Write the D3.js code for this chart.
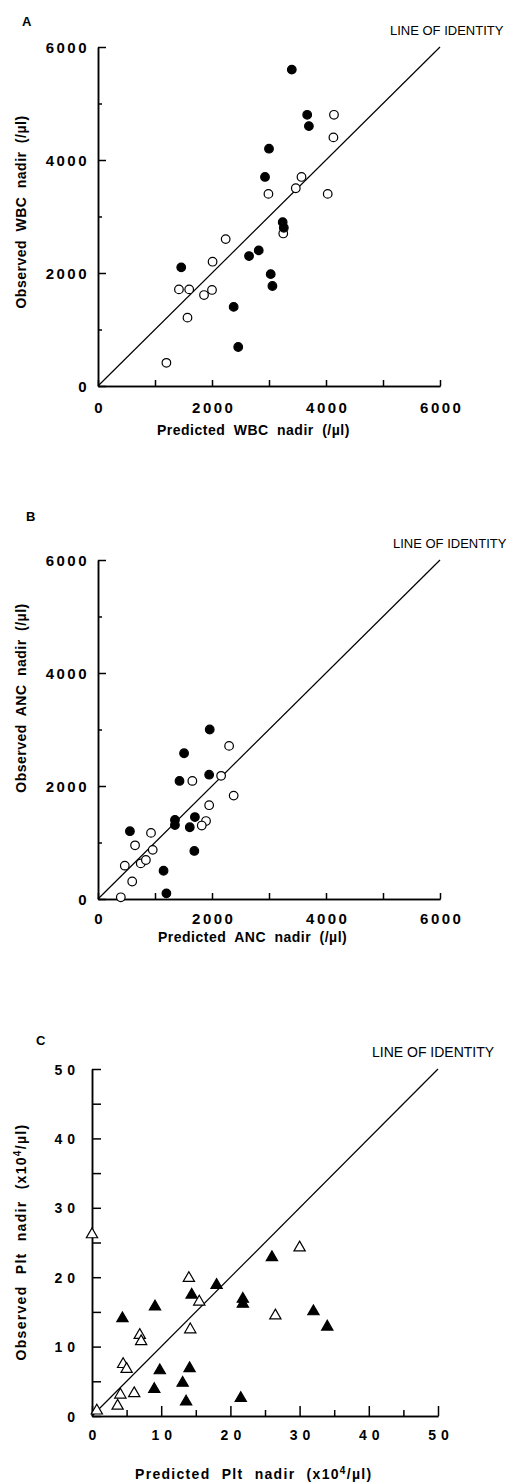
<!DOCTYPE html>
<html>
<head>
<meta charset="utf-8">
<title>Predicted vs observed nadir</title>
<style>
  body { margin: 0; background: #fff; }
  text { font-family: "Liberation Sans", Arial, sans-serif; fill: #000; }
</style>
</head>
<body>
<div id="plot"></div>
<script src="https://cdn.jsdelivr.net/npm/d3@7"></script>
<script>

// panel A : WBC nadir (/µl)  [predicted, observed]
let wbcFilled = [[3400,5600],[3670,4800],[3700,4600],[3000,4200],[2930,3700],[3240,2900],[3260,2800],
                 [2820,2400],[2650,2300],[1460,2100],[3030,1980],[3060,1770],[2380,1400],[2460,690]];
let wbcOpen = [[4140,4800],[4130,4400],[3570,3700],[3470,3500],[2990,3400],[4030,3400],[3250,2700],
               [2240,2600],[2010,2200],[1420,1710],[1600,1710],[2000,1700],[1860,1610],[1570,1210],[1200,410]];

// panel B : ANC nadir (/µl)
let ancFilled = [[1960,3000],[1510,2580],[1950,2200],[1430,2090],[1700,1450],[1350,1400],[1350,1310],
                 [1610,1270],[560,1200],[1690,850],[1150,500],[1200,100]];
let ancOpen = [[2300,2710],[2160,2180],[1655,2090],[2380,1830],[1950,1660],[1895,1380],[1820,1300],
               [930,1170],[650,950],[960,870],[470,590],[750,630],[840,690],[600,310],[400,30]];

// panel C : Plt nadir (x10^4/µl)
let pltFilled = [[26,23],[18,19],[14.4,17.6],[21.8,17],[21.8,16.3],[9.1,15.9],[4.4,14.2],[32,15.2],
                 [34,13],[9.8,6.7],[14.1,7],[13.1,4.9],[9,4],[13.6,2.2],[21.5,2.7]];
let pltOpen = [[0,26.3],[30,24.4],[14,20],[15.5,16.6],[26.5,14.6],[14.2,12.6],[6.9,11.8],[7.1,10.9],
               [4.5,7.6],[5,6.9],[6.1,3.4],[4.1,3.2],[3.7,1.6],[0.7,0.9]];

// ticks
let cellTicks = [0, 2000, 4000, 6000];
let cellMinor = [1000, 3000, 5000];
let pltTicks = [0, 10, 20, 30, 40, 50];
let pltMinor = [5, 15, 25, 35, 45];

let svgWidth = 510;
let svgHeight = 1483;

let svg = d3.select('#plot')
  .append('svg')
    .attr('width', svgWidth)
    .attr('height', svgHeight);

function translate(x, y) {
  return 'translate(' + x + ',' + y + ')';
}

function panel(p) {
  let x = d3.scaleLinear().domain(p.domain).range([p.left, p.right]);
  let y = d3.scaleLinear().domain(p.domain).range([p.bottom, p.top]);
  let g = svg.append('g');
  let fmt = d3.format('d');

  // minor ticks
  g.append('g')
    .attr('transform', translate(p.left, 0))
    .call(d3.axisLeft(y).tickValues(p.minor).tickSize(-p.yMinorLen).tickSizeOuter(0).tickFormat(''));
  g.append('g')
    .attr('transform', translate(0, p.bottom))
    .call(d3.axisBottom(x).tickValues(p.minor).tickSize(-p.xMinorLen).tickSizeOuter(0).tickFormat(''));

  // major ticks with labels
  let ya = g.append('g')
    .attr('transform', translate(p.left, 0))
    .call(d3.axisLeft(y).tickValues(p.ticks).tickSize(-p.yMajorLen).tickSizeOuter(0)
      .tickPadding(p.yPad).tickFormat(fmt));
  let xa = g.append('g')
    .attr('transform', translate(0, p.bottom))
    .call(d3.axisBottom(x).tickValues(p.ticks).tickSize(-p.xMajorLen).tickSizeOuter(0)
      .tickPadding(p.xPad).tickFormat(fmt));

  g.selectAll('.domain, .tick line').attr('stroke', '#000').attr('stroke-width', 1.5);
  g.selectAll('.tick text')
    .style('font-family', '"Liberation Sans", Arial, sans-serif')
    .style('font-weight', 'bold')
    .style('font-size', p.tickFont + 'px')
    .style('letter-spacing', p.tickSpacing + 'px')
    .attr('fill', '#000');
  ya.selectAll('.tick text').attr('dy', '0.36em');
  xa.selectAll('.tick text').attr('dy', '0.71em').attr('dx', p.tickSpacing / 2);

  // line of identity
  g.append('line')
    .attr('x1', x(p.domain[0])).attr('y1', y(p.domain[0]))
    .attr('x2', x(p.domain[1])).attr('y2', y(p.domain[1]))
    .attr('stroke', '#000').attr('stroke-width', 1.2);

  g.append('text')
    .attr('x', p.loiX).attr('y', p.top - 12)
    .style('font-size', p.loiFont + 'px')
    .text('LINE OF IDENTITY');

  // panel letter
  g.append('text')
    .attr('x', p.letterX).attr('y', p.letterY)
    .style('font-size', '13px').style('font-weight', 'bold')
    .text(p.letter);

  // points
  let sym = p.shape === 'circle' ? null : d3.symbol().type(d3.symbolTriangle).size(55);
  [[p.open, '#fff'], [p.filled, '#000']].forEach(function(s) {
    if (sym) {
      g.selectAll(null)
        .data(s[0])
        .enter()
        .append('path')
          .attr('d', sym)
          .attr('transform', d => translate(x(d[0]), y(d[1]) + 1))
          .attr('fill', s[1])
          .attr('stroke', '#000')
          .attr('stroke-width', 1.2);
    } else {
      g.selectAll(null)
        .data(s[0])
        .enter()
        .append('circle')
          .attr('r', 4.3)
          .attr('cx', d => x(d[0]))
          .attr('cy', d => y(d[1]))
          .attr('fill', s[1])
          .attr('stroke', '#000')
          .attr('stroke-width', 1.2);
    }
  });

  // axis titles
  let xt = g.append('text')
    .attr('x', p.xTitleX).attr('y', p.xTitleY);
  let yt = g.append('text')
    .attr('transform', translate(p.yTitleX, p.yTitleY) + ' rotate(-90)')
    .attr('text-anchor', 'middle');
  [[xt, 'Predicted'], [yt, 'Observed']].forEach(function(t) {
    t[0].style('font-size', '14px').style('font-weight', 'bold')
      .style('letter-spacing', p.titleSpacing + 'px').style('word-spacing', p.wordSpacing + 'px');
    t[0].append('tspan').text(t[1] + ' ' + p.name + ' nadir (' + (p.unitPow ? 'x10' : '/\u00b5l)'));
    if (p.unitPow) {
      t[0].append('tspan').attr('baseline-shift', 'super').style('font-size', '10px').text('4');
      t[0].append('tspan').text('/\u00b5l)');
    }
  });
}

panel({
  letter: 'A', letterX: 22, letterY: 26, name: 'WBC',
  domain: [0, 6000], ticks: cellTicks, minor: cellMinor,
  left: 98, right: 440, top: 47, bottom: 386,
  yMajorLen: 8, yMinorLen: 4, xMajorLen: 6, xMinorLen: 6,
  yPad: 9, xPad: 16, tickFont: 15, tickSpacing: 2.5,
  loiX: 390, loiFont: 13, titleSpacing: 0.5, wordSpacing: 4,
  xTitleX: 157, xTitleY: 435, yTitleX: 26, yTitleY: 212,
  filled: wbcFilled, open: wbcOpen, shape: 'circle'
});

panel({
  letter: 'B', letterX: 26, letterY: 521, name: 'ANC',
  domain: [0, 6000], ticks: cellTicks, minor: cellMinor,
  left: 98, right: 440, top: 560, bottom: 899,
  yMajorLen: 8, yMinorLen: 4, xMajorLen: 6, xMinorLen: 6,
  yPad: 9, xPad: 14, tickFont: 15, tickSpacing: 2.5,
  loiX: 393, loiFont: 13, titleSpacing: 0.5, wordSpacing: 4,
  xTitleX: 158, xTitleY: 942, yTitleX: 26, yTitleY: 698,
  filled: ancFilled, open: ancOpen, shape: 'circle'
});

panel({
  letter: 'C', letterX: 36, letterY: 1045, name: 'Plt',
  domain: [0, 50], ticks: pltTicks, minor: pltMinor,
  left: 92, right: 438, top: 1069, bottom: 1416,
  yMajorLen: 9, yMinorLen: 9, xMajorLen: 10, xMinorLen: 6,
  yPad: 12, xPad: 14, tickFont: 14, tickSpacing: 5,
  loiX: 372, loiFont: 14, titleSpacing: 1.3, wordSpacing: 6,
  xTitleX: 135, xTitleY: 1479, yTitleX: 26, yTitleY: 1242,
  filled: pltFilled, open: pltOpen, shape: 'triangle', unitPow: true
});

</script>
</body>
</html>
